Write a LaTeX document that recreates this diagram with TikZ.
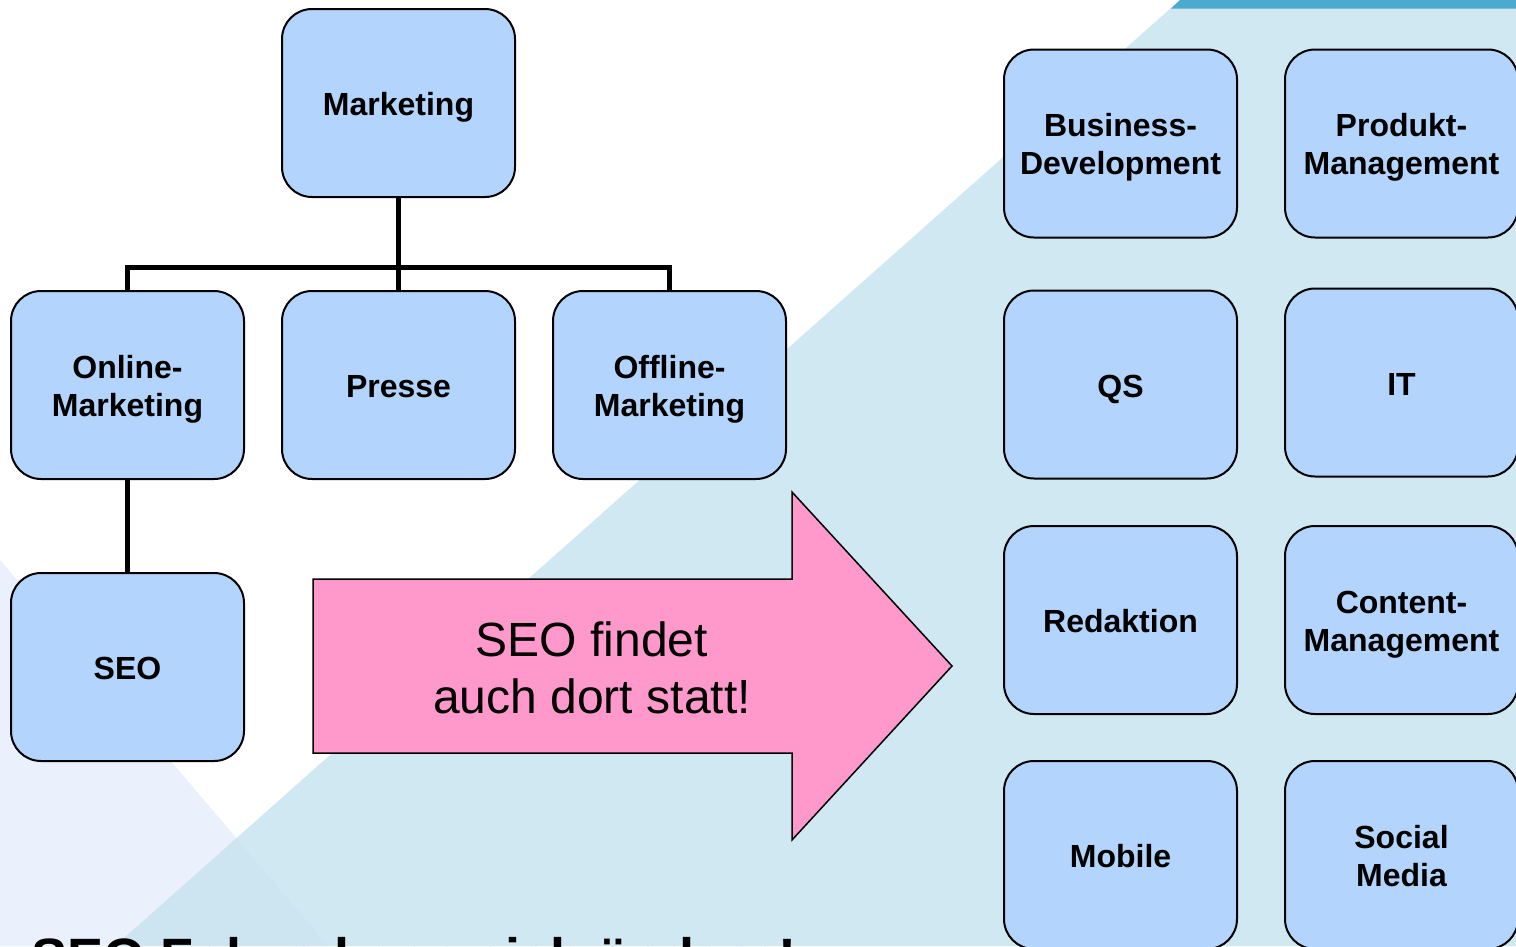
\documentclass[tikz,border=0pt]{standalone}
\usepackage{fontspec}
\setmainfont{Liberation Sans}
\definecolor{boxblue}{HTML}{B3D4FC}
\definecolor{bgblue}{HTML}{C8E4F0}
\definecolor{bglav}{HTML}{EAF1FC}
\definecolor{barblue}{HTML}{4BAACD}
\definecolor{arrowpink}{HTML}{FF99CC}
\tikzset{
  unitbase/.style={draw=black, line width=2pt, fill=boxblue, rounded corners=30pt,
    minimum width=233pt, minimum height=188pt, align=center, inner sep=2pt,
    font=\fontsize{32}{38}\selectfont\bfseries},
  unit/.style={unitbase, execute at begin node={\rule[-10pt]{0pt}{45pt}}},
  unittwo/.style={unitbase, execute at begin node={\rule[-10pt]{0pt}{82pt}}},
  link/.style={line width=5pt, draw=black},
}
\begin{document}
\begin{tikzpicture}[x=1pt,y=-1pt]
\useasboundingbox (0,0) rectangle (1516,946);
\begin{scope}
\clip (0,0) rectangle (1516,946);
% backdrop
\fill[white] (0,0) rectangle (1516,946);
\fill[bglav] (0,560) -- (328,946) -- (0,946) -- cycle;
\fill[bgblue, fill opacity=0.85] (1180,0) -- (1516,0) -- (1516,946) -- (115,946) -- cycle;
\fill[barblue] (1180,0) -- (1516,0) -- (1516,8.5) -- (1171,8.5) -- cycle;

% organisation chart
\node[unit]    (mk)  at (398.5,103) {Marketing};
\node[unittwo] (om)  at (127.5,385) {Online-\\Marketing};
\node[unit]    (pr)  at (398.5,385) {Presse};
\node[unittwo] (off) at (669.5,385) {Offline-\\Marketing};
\node[unit]    (seo) at (127.5,667) {SEO};

\coordinate (bus) at (398.5,267);
\draw[link] (mk.south) -- (bus);
\draw[link] (om.north) |- (bus) -| (off.north);
\draw[link] (bus) -- (pr.north);
\draw[link] (om.south) -- (seo.north);

% departments
\node[unittwo] (bd)  at (1120.5,143.5) {Business-\\Development};
\node[unittwo] (pm)  at (1401.5,143.5) {Produkt-\\Management};
\node[unit]    (qs)  at (1120.5,384.5) {QS};
\node[unit]    (it)  at (1401.5,382.5) {IT};
\node[unit]    (red) at (1120.5,620)   {Redaktion};
\node[unittwo] (cm)  at (1401.5,620)   {Content-\\Management};
\node[unit]    (mob) at (1120.5,855)   {Mobile};
\node[unittwo] (sm)  at (1401.5,855)   {Social\\Media};

% big arrow
\draw[fill=arrowpink, draw=black, line width=1.5pt]
  (313,579) -- (792,579) -- (792,492) -- (952,666) -- (792,840) -- (792,753) -- (313,753) -- cycle;
\node[align=center, font=\fontsize{48}{57}\selectfont] (msg) at (592,668) {SEO findet\\auch dort statt!};

% heading
\node[anchor=base west, inner sep=0pt, font=\fontsize{54}{62}\selectfont\bfseries] (title) at (31,976) {SEO Fokus kann sich ändern!};
\end{scope}
\end{tikzpicture}
\end{document}
